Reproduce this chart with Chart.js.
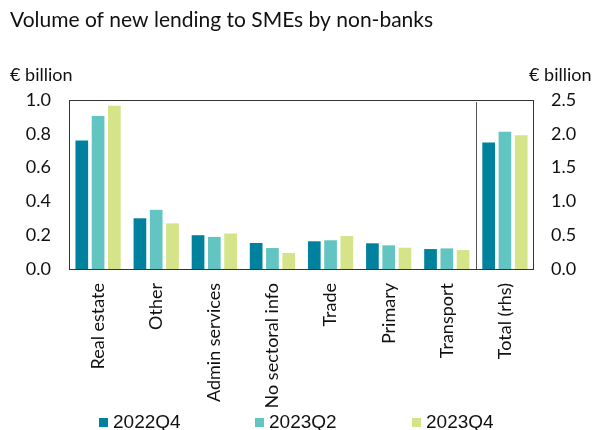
<!DOCTYPE html>
<html>
<head>
<meta charset="utf-8">
<script src="https://cdn.jsdelivr.net/npm/chart.js@4"></script>
<style>
html,body{margin:0;padding:0;background:#fff;}
#wrap{width:596px;height:430px;position:relative;}
</style>
</head>
<body>
<div id="wrap"><canvas id="c" width="596" height="430"></canvas></div>
<script>
const titleText = "Volume of new lending to SMEs by non-banks";
const unitLabel = "€ billion";
const categories = ["Real estate","Other","Admin services","No sectoral info","Trade","Primary","Transport","Total (rhs)"];
const seriesNames = ["2022Q4","2023Q2","2023Q4"];
const colors = ["#00829E","#62C5C2","#D5E389"];
// sector values (left axis), € billion
const s2022Q4 = [0.76, 0.30, 0.20, 0.154, 0.164, 0.152, 0.118];
const s2023Q2 = [0.905, 0.35, 0.19, 0.124, 0.17, 0.14, 0.122];
const s2023Q4 = [0.966, 0.27, 0.21, 0.095, 0.195, 0.126, 0.112];
// totals (right axis), € billion
const total2022Q4 = 1.87;
const total2023Q2 = 2.03;
const total2023Q4 = 1.98;
const leftTicks = [0, 0.2, 0.4, 0.6, 0.8, 1.0];
const rightTicks = [0, 0.5, 1.0, 1.5, 2.0, 2.5];

const leftSeries = [s2022Q4, s2023Q2, s2023Q4];
const totals = [total2022Q4, total2023Q2, total2023Q4];

const datasets = [];
leftSeries.forEach((arr, i) => {
  datasets.push({label: seriesNames[i], data: arr.concat([null]), backgroundColor: colors[i], yAxisID: 'y', skipNull: true, categoryPercentage: 0.84, barPercentage: 0.78});
});
totals.forEach((v, i) => {
  const d = categories.map(() => null); d[categories.length - 1] = v;
  datasets.push({label: seriesNames[i] + ' total', data: d, backgroundColor: colors[i], yAxisID: 'y2', skipNull: true, categoryPercentage: 0.84, barPercentage: 0.78});
});

const legendX = [99, 255, 412];

const deco = {
  id: 'deco',
  afterDraw(chart) {
    const ctx = chart.ctx, a = chart.chartArea;
    ctx.save();
    ctx.strokeStyle = '#333';
    ctx.lineWidth = 1;
    ctx.strokeRect(Math.round(a.left) + 0.5, Math.round(a.top) + 0.5, Math.round(a.right - a.left) - 1, Math.round(a.bottom - a.top));
    const xs = chart.scales.x;
    const xd = Math.round(xs.getPixelForValue(categories.length - 1.5)) + 0.5;
    ctx.strokeStyle = '#555';
    ctx.beginPath(); ctx.moveTo(xd, a.top + 2); ctx.lineTo(xd, a.bottom); ctx.stroke();
    ctx.fillStyle = '#111';
    ctx.textBaseline = 'alphabetic';
    ctx.font = '21px Lato';
    ctx.textAlign = 'left';
    ctx.fillText(titleText, 10, 27);
    ctx.font = '18px Lato';
    ctx.fillText(unitLabel, 10, 81);
    ctx.fillText(unitLabel, 529, 81);
    // legend
    ctx.textBaseline = 'middle';
    ctx.font = '19px "Liberation Sans"';
    for (let i = 0; i < 3; i++) {
      const ds = chart.data.datasets[i];
      ctx.fillStyle = ds.backgroundColor;
      ctx.fillRect(legendX[i], 418, 9, 9);
      ctx.fillStyle = '#111';
      ctx.fillText(ds.label, legendX[i] + 14, 423);
    }
    ctx.restore();
  }
};

new Chart(document.getElementById('c'), {
  type: 'bar',
  data: {labels: categories, datasets},
  options: {
    responsive: false,
    animation: false,
    layout: {padding: {top: 100, left: 0, right: 0, bottom: 0}},
    plugins: {
      tooltip: {enabled: false},
      legend: {display: false}
    },
    scales: {
      x: {
        offset: true,
        grid: {display: false, drawTicks: false},
        border: {display: false},
        ticks: {maxRotation: 90, minRotation: 90, padding: 14, color: '#111', font: {family: 'Lato', size: 18}, autoSkip: false},
        afterFit: s => { s.height = 161; }
      },
      y: {
        position: 'left', min: 0, max: 1,
        grid: {display: false, drawTicks: false},
        border: {display: false},
        afterBuildTicks: s => { s.ticks = leftTicks.map(v => ({value: v})); },
        ticks: {padding: 18, color: '#111', font: {family: 'Lato', size: 18}, callback: v => Number(v).toFixed(1)},
        afterFit: s => { s.width = 69; }
      },
      y2: {
        position: 'right', min: 0, max: 2.5,
        grid: {display: false, drawTicks: false},
        border: {display: false},
        afterBuildTicks: s => { s.ticks = rightTicks.map(v => ({value: v})); },
        ticks: {padding: 17, color: '#111', font: {family: 'Lato', size: 18}, callback: v => Number(v).toFixed(1)},
        afterFit: s => { s.width = 62; }
      }
    }
  },
  plugins: [deco]
});
</script>
</body>
</html>
